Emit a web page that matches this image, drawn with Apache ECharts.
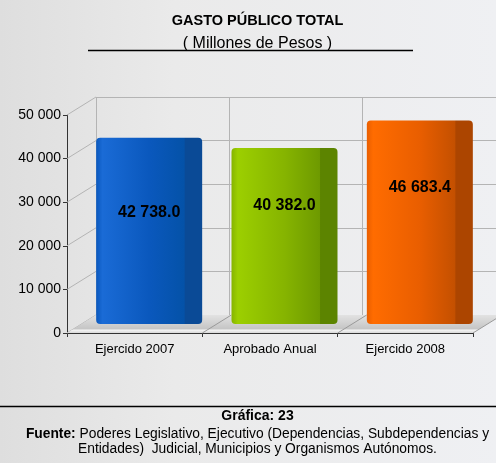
<!DOCTYPE html>
<html>
<head>
<meta charset="utf-8">
<script src="https://cdn.jsdelivr.net/npm/echarts@6/dist/echarts.min.js"></script>
<style>
  html, body { margin: 0; padding: 0; }
  #main { width: 496px; height: 463px; }
</style>
</head>
<body>
<div id="main"></div>
<script>
// datos
var categorias = ['Ejercido 2007', 'Aprobado Anual', 'Ejercido 2008'];
var valores = [42738.0, 40382.0, 46683.4];
var ticksY = [0, 10000, 20000, 30000, 40000, 50000];

var colores = [
  ['#1a6bd6', '#0a58bd', '#0452a8', '#0a4a96'],
  ['#9ccf00', '#86b400', '#6e9a00', '#5c8400'],
  ['#ff6c00', '#e95e00', '#c45000', '#ac4500']
];
// distancia de la etiqueta desde el borde superior de cada barra
var distEtiqueta = [67, 50, 59];

// marco 3D
var front = { left: 67, top: 115, width: 406, height: 218 };
var back = { left: 96, top: 97, width: 406, height: 218 };
var mid = { left: 81.5, top: 106, width: 406, height: 218 };
var dx = back.left - front.left;
var dy = back.top - front.top;

function miles(v) {
  return String(v).replace(/\B(?=(\d{3})+(?!\d))/g, ' ');
}
function etiqueta(v) {
  var p = v.toFixed(1).split('.');
  return miles(p[0]) + '.' + p[1];
}

var fuente = 'Liberation Sans, Arial, sans-serif';
var cx = 257.5;

function texto(t, y, size, weight, extra) {
  return {
    type: 'text', x: cx, y: y, silent: true,
    style: Object.assign({
      text: t, fill: '#000', fontSize: size, fontWeight: weight, fontFamily: fuente,
      align: 'center', verticalAlign: 'middle'
    }, extra || {})
  };
}

var myChart = echarts.init(document.getElementById('main'), null, { renderer: 'canvas' });

var option = {
  backgroundColor: {
    type: 'linear', x: 0, y: 0, x2: 1, y2: 0,
    colorStops: [
      { offset: 0, color: '#dedede' },
      { offset: 0.35, color: '#eaeaea' },
      { offset: 1, color: '#eff0f3' }
    ]
  },
  textStyle: { fontFamily: fuente },
  animation: false,
  graphic: [
    texto('GASTO PÚBLICO TOTAL', 21, 14.5, 'bold'),
    texto('( Millones de Pesos )', 44, 16, 'normal'),
    { type: 'line', shape: { x1: 88, y1: 50.5, x2: 413, y2: 50.5 }, style: { stroke: '#000', lineWidth: 1.3 } },
    { type: 'line', shape: { x1: 0, y1: 406.5, x2: 496, y2: 406.5 }, style: { stroke: '#000', lineWidth: 1.3 } },
    texto('Gráfica: 23', 416.5, 14, 'bold'),
    texto('{b|Fuente:} Poderes Legislativo, Ejecutivo (Dependencias, Subdependencias y\nEntidades)  Judicial, Municipios y Organismos Autónomos.', 441.5, 13.8, 'normal', {
      lineHeight: 15,
      rich: { b: { fontWeight: 'bold', fontSize: 13.8, fontFamily: fuente, fill: '#000' } }
    })
  ],
  grid: [
    Object.assign({}, front),
    Object.assign({}, back),
    Object.assign({}, mid)
  ],
  xAxis: [
    {
      gridIndex: 0, type: 'category', data: categorias,
      axisLine: { lineStyle: { color: '#333', width: 1 } },
      axisTick: { show: true, length: 4, lineStyle: { color: '#333' } },
      axisLabel: { fontSize: 13, color: '#000', margin: 10, fontFamily: fuente },
      splitLine: { show: false }
    },
    {
      gridIndex: 1, type: 'category', data: categorias,
      axisLine: { show: false }, axisTick: { show: false }, axisLabel: { show: false },
      splitLine: { show: true, lineStyle: { color: '#b4b4b4', width: 1 } }
    },
    {
      gridIndex: 2, type: 'category', data: categorias, show: false
    }
  ],
  yAxis: [
    {
      gridIndex: 0, type: 'value', min: 0, max: 50000, interval: 10000,
      axisLine: { show: true, lineStyle: { color: '#333', width: 1 } },
      axisTick: { show: true, length: 4, lineStyle: { color: '#333' } },
      axisLabel: { fontSize: 14, color: '#000', margin: 6, fontFamily: fuente, formatter: miles },
      splitLine: { show: false }
    },
    {
      gridIndex: 1, type: 'value', min: 0, max: 50000, interval: 10000,
      axisLine: { show: false }, axisTick: { show: false }, axisLabel: { show: false },
      splitLine: { show: true, lineStyle: { color: '#b4b4b4', width: 1 } }
    },
    {
      gridIndex: 2, type: 'value', min: 0, max: 50000, interval: 10000, show: false,
      splitLine: { show: false }
    }
  ],
  series: [
    {
      // lineas diagonales de la pared izquierda
      type: 'custom', xAxisIndex: 0, yAxisIndex: 0, z: 1, silent: true,
      data: ticksY.map(function (t) { return [0, t]; }),
      renderItem: function (params, api) {
        var cs = params.coordSys;
        var y = api.coord([0, api.value(1)])[1];
        return {
          type: 'line',
          shape: { x1: cs.x, y1: y, x2: cs.x + dx, y2: y + dy },
          style: { stroke: '#b4b4b4', lineWidth: 1 }
        };
      }
    },
    {
      // piso
      type: 'custom', xAxisIndex: 0, yAxisIndex: 0, z: 1, silent: true,
      data: categorias.map(function (c, i) { return [i, 0]; }),
      renderItem: function (params, api) {
        var cs = params.coordSys;
        var i = api.value(0);
        var yb = cs.y + cs.height;
        var step = cs.width / categorias.length;
        var xr = cs.x + (i + 1) * step;
        var children = [];
        if (i === 0) {
          children.push({
            type: 'polygon',
            shape: { points: [[cs.x, yb], [cs.x + cs.width, yb], [cs.x + cs.width + dx, yb + dy], [cs.x + dx, yb + dy]] },
            style: {
              fill: {
                type: 'linear', x: 0, y: 0, x2: 0, y2: 1,
                colorStops: [
                  { offset: 0, color: '#e2e2e2' },
                  { offset: 0.75, color: '#c6c6c6' },
                  { offset: 0.85, color: '#f2f2f2' },
                  { offset: 1, color: '#d8d8d8' }
                ]
              }
            }
          });
        }
        children.push({
          type: 'line',
          shape: { x1: xr, y1: yb, x2: xr + dx, y2: yb + dy },
          style: { stroke: '#9a9a9a', lineWidth: 1 }
        });
        return { type: 'group', children: children };
      }
    },
    {
      type: 'bar', xAxisIndex: 2, yAxisIndex: 2, z: 3,
      barWidth: 106,
      data: valores.map(function (v, i) {
        var c = colores[i];
        return {
          value: v,
          label: { distance: distEtiqueta[i] },
          itemStyle: {
            color: {
              type: 'linear', x: 0, y: 0, x2: 1, y2: 0,
              colorStops: [
                { offset: 0, color: c[1] },
                { offset: 0.06, color: c[0] },
                { offset: 0.5, color: c[1] },
                { offset: 0.83, color: c[2] },
                { offset: 0.84, color: c[3] },
                { offset: 1, color: c[3] }
              ]
            }
          }
        };
      }),
      itemStyle: { borderRadius: [4, 4, 4, 4] },
      label: {
        show: true,
        position: 'insideTop',
        fontSize: 16,
        fontWeight: 'bold',
        color: '#000',
        fontFamily: fuente,
        formatter: function (p) { return etiqueta(p.value); }
      }
    }
  ]
};

myChart.setOption(option);
</script>
</body>
</html>
